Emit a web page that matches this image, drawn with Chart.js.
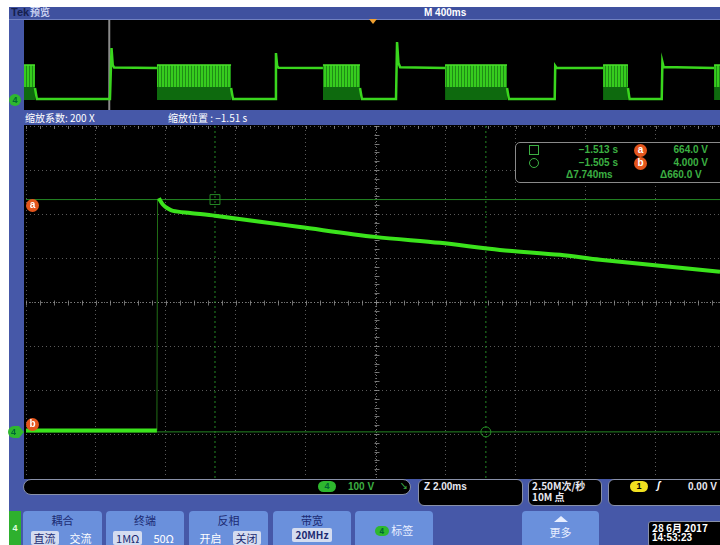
<!DOCTYPE html>
<html>
<head>
<meta charset="utf-8">
<script src="https://cdn.jsdelivr.net/npm/chart.js@4.4.0/dist/chart.umd.min.js"></script>
<style>
  body { margin:0; width:720px; height:545px; overflow:hidden; background:#fff; position:relative;
         font-family:"Liberation Sans","Noto Sans CJK SC",sans-serif; }
  .abs { position:absolute; }
  .cjk { font-family:"Noto Sans CJK SC",sans-serif; }
  #frame { left:9px; top:7px; width:711px; height:538px; background:#4658a8; }
  #topbar { left:9px; top:7px; width:711px; height:12px; background:#3f519f; border-bottom:1px solid #7080c0; }
  .wt { color:#fff; font-size:10px; line-height:12px; font-weight:bold; white-space:nowrap; }
  .blk { background:#000; }
  .box { background:#000; border:1px solid #8890a8; border-radius:6px; box-sizing:border-box; }
  .btn { background:#6a90dc; border-radius:4px; top:511px; height:40px; text-align:center; }
  .btn .t { font-size:11px; color:#1b2a72; line-height:13px; margin-top:3px; height:13px; }
  .row { margin-top:4px; font-size:11px; line-height:14px; height:14px; }
  .opt { display:inline-block; font-size:11px; line-height:14px; padding:0 3px; color:#fff; margin:0 4px; vertical-align:top; }
  .sel { background:#d4dcf0; color:#1b2a72; border-radius:2px; }
  .lab { width:13px; height:13px; border-radius:50%; background:#e4551c; color:#fff; font-size:10px;
         line-height:12px; text-align:center; font-weight:bold; }
  .g4 { background:#2eb82e; color:#063; font-size:9px; font-weight:bold; text-align:center; line-height:12px; }
  .rd { color:#3cb043; font-size:10px; font-weight:bold; line-height:12px; white-space:nowrap; }
</style>
</head>
<body>
<div id="frame" class="abs"></div>
<div id="topbar" class="abs"></div>
<div class="abs" style="left:11px;top:6px;font-size:11px;font-weight:bold;color:#16204e;line-height:13px;">Tek</div>
<div class="abs wt cjk" style="left:30px;top:6px;color:#c8d0f0;">预览</div>
<div class="abs wt" style="left:424px;top:7px;">M 400ms</div>

<div class="abs blk" style="left:24px;top:20px;width:696px;height:90px;"></div>
<canvas id="overview" class="abs" width="696" height="90" style="left:24px;top:20px;"></canvas>
<div class="abs" style="left:369px;top:19px;width:0;height:0;border-left:4px solid transparent;border-right:4px solid transparent;border-top:5px solid #f0a030;"></div>
<div class="abs g4" style="left:9px;top:94px;width:12px;height:12px;border-radius:6px;">4</div>

<div class="abs wt cjk" style="left:25px;top:112px;font-weight:normal;">缩放系数: 200 X</div>
<div class="abs wt cjk" style="left:168px;top:112px;font-weight:normal;">缩放位置 : −1.51 s</div>

<div class="abs blk" style="left:24px;top:125px;width:696px;height:354px;"></div>
<canvas id="main" class="abs" width="694" height="352" style="left:26px;top:126px;"></canvas>

<div class="abs lab" style="left:26px;top:199px;">a</div>
<div class="abs lab" style="left:26px;top:418px;">b</div>
<div class="abs g4" style="left:8px;top:426px;width:11px;height:12px;border-radius:6px 0 0 6px;">4</div>
<div class="abs" style="left:19px;top:426px;width:0;height:0;border-top:6px solid transparent;border-bottom:6px solid transparent;border-left:5px solid #2eb82e;"></div>

<div class="abs" style="left:515px;top:142px;width:210px;height:41px;border:1px solid #8a8a8a;border-radius:5px;box-sizing:border-box;background:#000;"></div>
<div class="abs" style="left:529px;top:145px;width:8px;height:8px;border:1px solid #3cb043;"></div>
<div class="abs" style="left:529px;top:158px;width:8px;height:8px;border:1px solid #3cb043;border-radius:50%;"></div>
<div class="abs rd" style="left:560px;top:144px;width:58px;text-align:right;">−1.513 s</div>
<div class="abs rd" style="left:560px;top:157px;width:58px;text-align:right;">−1.505 s</div>
<div class="abs lab" style="left:634px;top:144px;">a</div>
<div class="abs lab" style="left:634px;top:157px;">b</div>
<div class="abs rd" style="left:650px;top:144px;width:58px;text-align:right;">664.0 V</div>
<div class="abs rd" style="left:650px;top:157px;width:58px;text-align:right;">4.000 V</div>
<div class="abs rd" style="left:566px;top:169px;">Δ7.740ms</div>
<div class="abs rd" style="left:660px;top:169px;">Δ660.0 V</div>

<div class="abs box" style="left:23px;top:479px;width:388px;height:16px;border-radius:8px;"></div>
<div class="abs g4" style="left:318px;top:481px;width:18px;height:11px;border-radius:6px;line-height:11px;">4</div>
<div class="abs rd" style="left:348px;top:481px;">100 V</div>
<div class="abs rd" style="left:400px;top:481px;font-size:8px;">↘</div>
<div class="abs box" style="left:418px;top:479px;width:105px;height:27px;"></div>
<div class="abs wt" style="left:424px;top:481px;color:#e8e8f0;">Z 2.00ms</div>
<div class="abs box" style="left:528px;top:479px;width:74px;height:27px;"></div>
<div class="abs wt cjk" style="left:532px;top:480px;color:#e8e8f0;">2.50M次/秒</div>
<div class="abs wt cjk" style="left:532px;top:491px;color:#e8e8f0;">10M 点</div>
<div class="abs box" style="left:608px;top:479px;width:120px;height:27px;"></div>
<div class="abs" style="left:630px;top:481px;width:18px;height:11px;border-radius:6px;background:#f0e020;color:#000;font-size:9px;font-weight:bold;text-align:center;line-height:11px;">1</div>
<div class="abs wt" style="left:657px;top:480px;font-style:italic;">ʃ</div>
<div class="abs wt" style="left:688px;top:481px;color:#e8e8f0;">0.00 V</div>

<div class="abs g4" style="left:9px;top:511px;width:12px;height:34px;line-height:34px;background:#2eb02e;color:#e0ffe0;">4</div>
<div class="abs btn cjk" style="left:23px;width:79px;"><div class="t">耦合</div><div class="row"><span class="opt sel">直流</span><span class="opt">交流</span></div></div>
<div class="abs btn cjk" style="left:106px;width:78px;"><div class="t">终端</div><div class="row"><span class="opt sel">1MΩ</span><span class="opt">50Ω</span></div></div>
<div class="abs btn cjk" style="left:189px;width:79px;"><div class="t">反相</div><div class="row"><span class="opt">开启</span><span class="opt sel">关闭</span></div></div>
<div class="abs btn cjk" style="left:273px;width:78px;"><div class="t">带宽</div><div class="row" style="margin-top:1px;"><span class="opt sel" style="font-weight:bold;font-size:10px;">20MHz</span></div></div>
<div class="abs btn cjk" style="left:355px;width:78px;"><div style="margin-top:12px;font-size:11px;line-height:14px;color:#e8eeff;"><span style="display:inline-block;width:14px;height:10px;border-radius:5px;background:#2eb82e;color:#063;font-size:8px;line-height:10px;font-weight:bold;vertical-align:1px;">4</span> 标签</div></div>
<div class="abs btn cjk" style="left:522px;width:77px;"><div style="margin:5px auto 0;width:0;height:0;border-left:7px solid transparent;border-right:7px solid transparent;border-bottom:6px solid #e8eeff;"></div><div style="font-size:11px;line-height:14px;color:#e8eeff;margin-top:3px;">更多</div></div>
<div class="abs box" style="left:648px;top:521px;width:80px;height:26px;border-radius:3px;"></div>
<div class="abs wt cjk" style="left:652px;top:522px;">28 6月 2017</div>
<div class="abs wt" style="left:652px;top:532px;">14:53:23</div>

<script>
// overview (M 400ms) – time in s, level in V
const ovTime = [-1.937, -1.926, -1.506, -1.497, -1.490, -1.482, -1.236, -1.236,
                -0.810, -0.799, -0.557, -0.552, -0.545, -0.537, -0.282, -0.282,
                -0.069, -0.058, 0.138, 0.144, 0.152, 0.162, 0.420, 0.420,
                0.776, 0.787, 1.050, 1.053, 1.060, 1.328, 1.328,
                1.471, 1.480, 1.665, 1.669, 1.676, 1.966];
const ovVolt = [110, 0, 0, 510, 340, 315, 310, null,
                110, 0, 0, 460, 330, 312, 310, null,
                110, 0, 0, 570, 360, 318, 310, null,
                110, 0, 0, 330, 312, 310, null,
                110, 0, 0, 370, 320, 310];
const bandStart = [-2.0, -1.236, -0.282, 0.420, 1.328, 1.966];
const bandEnd = [-1.937, -0.810, -0.069, 0.776, 1.471, 2.0];
const bandTop = 340, bandMid = 120, bandLow = -10;
const zoomPos = -1.51;

// zoom window (2 ms/div) – time in ms around zoom position, level in V
const baseTime = [-10, -6.26];
const baseVolt = [8, 8];
const edgeTime = [-6.26, -6.24];
const edgeVolt = [8, 664];
const decayTime = [-6.20, -6.17, -6.09, -5.97, -5.80, -5.31, -4.60, -3.31, -2.17, -0.03, 1.83, 3.54, 5.26, 6.40, 8.11, 9.83];
const decayVolt = [668, 662, 650, 640, 632, 626, 618, 601, 586, 558, 541, 521, 507, 493, 476, 459];
const cursorVolt = [664, 4];        // a, b
const cursorTime = [-4.60, 3.14];   // square, circle
const xGrid = [-10, -8, -6, -4, -2, 0, 2, 4, 6, 8];
const yGrid = [-127, -2, 123, 248, 373, 498, 623, 748, 873];

const GREEN = '#3be31c';
const DIM = 'rgba(40,150,40,0.9)';

const pts = (xs, ys) => xs.map((x, i) => ({ x: x, y: ys[i] }));

// ---- overview ----
const pc = document.createElement('canvas');
pc.width = 3; pc.height = 1;
const pctx = pc.getContext('2d');
pctx.fillStyle = '#36cc1e'; pctx.fillRect(0, 0, 2, 1);
pctx.fillStyle = '#1f8c16'; pctx.fillRect(2, 0, 1, 1);
const stripes = pctx.createPattern(pc, 'repeat');

const ovSets = [{
  data: pts(ovTime, ovVolt), borderColor: '#3ad61e', borderWidth: 2.5,
  pointRadius: 0, spanGaps: false, fill: false
}, {
  data: [{ x: zoomPos, y: -200 }, { x: zoomPos, y: 900 }], borderColor: '#8a8a8a',
  borderWidth: 2, pointRadius: 0, fill: false
}];
bandStart.forEach((s, i) => {
  ovSets.push({ data: [{ x: s, y: bandTop }, { x: bandEnd[i], y: bandTop }], borderColor: '#4ae22a',
    borderWidth: 1.5, pointRadius: 0, fill: { value: bandMid }, backgroundColor: stripes });
  ovSets.push({ data: [{ x: s, y: bandMid }, { x: bandEnd[i], y: bandMid }], borderWidth: 0,
    pointRadius: 0, fill: { value: bandLow }, backgroundColor: '#0e6a0e' });
});

new Chart(document.getElementById('overview'), {
  type: 'line',
  data: { datasets: ovSets },
  options: {
    responsive: false, animation: false, devicePixelRatio: 1,
    layout: { padding: 0, autoPadding: false },
    plugins: { legend: { display: false }, tooltip: { enabled: false } },
    scales: {
      x: { type: 'linear', min: -2.0, max: 2.0, display: false },
      y: { min: -110, max: 790, display: false }
    }
  }
});

// ---- zoomed view ----
const crosshair = {
  id: 'crosshair',
  beforeDatasetsDraw(chart) {
    const { ctx, chartArea: a, scales: { x, y } } = chart;
    const cx = Math.round(x.getPixelForValue(0)) + 0.5;
    const cy = Math.round(y.getPixelForValue(373)) + 0.5;
    ctx.save();
    ctx.strokeStyle = 'rgba(150,150,150,0.75)';
    ctx.lineWidth = 1;
    ctx.setLineDash([1, 2]);
    ctx.beginPath();
    ctx.moveTo(cx, a.top); ctx.lineTo(cx, a.bottom);
    ctx.moveTo(a.left, cy); ctx.lineTo(a.right, cy);
    ctx.stroke();
    ctx.setLineDash([]);
    ctx.beginPath();
    for (let v = -10; v <= 10; v += 0.4) {
      const px = Math.round(x.getPixelForValue(v)) + 0.5;
      ctx.moveTo(px, cy - 2); ctx.lineTo(px, cy + 3);
      ctx.moveTo(px, a.top); ctx.lineTo(px, a.top + 3);
    }
    for (let v = -127; v <= 873; v += 25) {
      const py = Math.round(y.getPixelForValue(v)) + 0.5;
      ctx.moveTo(cx - 2, py); ctx.lineTo(cx + 3, py);
    }
    ctx.stroke();
    ctx.restore();
  }
};

const mainSets = [
  { data: pts(decayTime, decayVolt), borderColor: GREEN, borderWidth: 4, tension: 0.3 },
  { data: pts(baseTime, baseVolt), borderColor: GREEN, borderWidth: 4 },
  { data: pts(edgeTime, edgeVolt), borderColor: 'rgba(60,200,40,0.55)', borderWidth: 1 },
  { data: [{ x: cursorTime[0], y: cursorVolt[0] }], pointStyle: 'rect', pointRadius: 7,
    borderColor: DIM, borderWidth: 1, backgroundColor: 'rgba(0,0,0,0)', showLine: false },
  { data: [{ x: cursorTime[1], y: cursorVolt[1] }], pointStyle: 'circle', pointRadius: 5,
    borderColor: DIM, borderWidth: 1, backgroundColor: 'rgba(0,0,0,0)', showLine: false },
  { data: [{ x: -10, y: cursorVolt[0] }, { x: 10, y: cursorVolt[0] }], borderColor: DIM, borderWidth: 1 },
  { data: [{ x: -10, y: cursorVolt[1] }, { x: 10, y: cursorVolt[1] }], borderColor: DIM, borderWidth: 1 },
  { data: [{ x: cursorTime[0], y: -127 }, { x: cursorTime[0], y: 873 }], borderColor: DIM, borderWidth: 1, borderDash: [2, 3] },
  { data: [{ x: cursorTime[1], y: -127 }, { x: cursorTime[1], y: 873 }], borderColor: DIM, borderWidth: 1, borderDash: [2, 3] }
];
mainSets.forEach(d => { if (d.pointRadius === undefined) d.pointRadius = 0; d.fill = false; });

new Chart(document.getElementById('main'), {
  type: 'line',
  data: { datasets: mainSets },
  plugins: [crosshair],
  options: {
    responsive: false, animation: false, devicePixelRatio: 1,
    layout: { padding: 0, autoPadding: false },
    plugins: { legend: { display: false }, tooltip: { enabled: false } },
    scales: {
      x: {
        type: 'linear', min: -10, max: 9.83,
        afterBuildTicks: s => { s.ticks = xGrid.map(v => ({ value: v })); },
        afterFit: s => { s.height = 0; },
        ticks: { display: false },
        border: { display: false, dash: [1, 3] },
        grid: { color: 'rgba(120,120,120,0.75)', drawTicks: false }
      },
      y: {
        min: -127, max: 873,
        afterBuildTicks: s => { s.ticks = yGrid.map(v => ({ value: v })); },
        afterFit: s => { s.width = 0; },
        ticks: { display: false },
        border: { display: false, dash: [1, 3] },
        grid: { color: 'rgba(120,120,120,0.75)', drawTicks: false }
      }
    }
  }
});
</script>
</body>
</html>
